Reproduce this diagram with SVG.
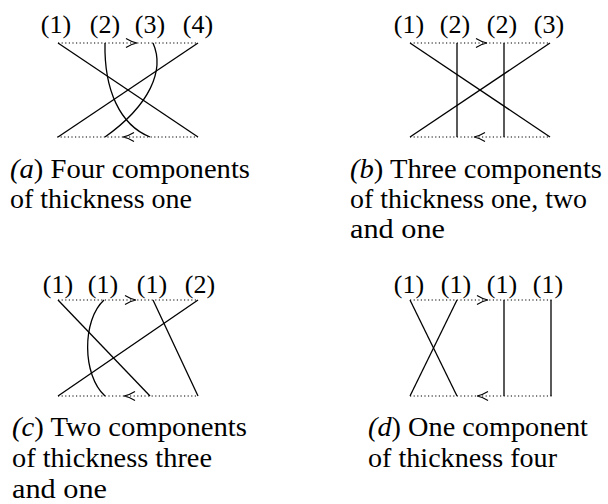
<svg xmlns="http://www.w3.org/2000/svg" width="608" height="504" viewBox="0 0 608 504">
<style>
.bg{fill:#fff}
.ln{stroke:#000;stroke-width:1.3;fill:none}
.dot{stroke:#000;stroke-width:1.2;fill:none;stroke-dasharray:1.2 2.4}
.tip{stroke:#000;stroke-width:1.1;fill:none}
.lab{font-family:"Liberation Serif","DejaVu Serif",serif;font-size:26px;text-anchor:middle;fill:#000}
.cap{font-family:"Liberation Serif","DejaVu Serif",serif;font-size:27px;fill:#000}
.it{font-style:italic}
</style>
<defs>
<path id="chev" d="M-11,-4.5 Q-5,-0.8 0,0 Q-5,0.8 -11,4.5"/>
</defs>
<rect class="bg" x="0" y="0" width="608" height="504"/>

<g id="panel-a">
<g id="a-labels">
<text class="lab" x="56" y="33">(1)</text>
<text class="lab" x="105" y="33">(2)</text>
<text class="lab" x="150" y="33">(3)</text>
<text class="lab" x="198" y="33">(4)</text>
</g>
<g id="a-connectors">
<line class="dot" x1="58" y1="43" x2="198" y2="43"/>
<line class="dot" x1="57" y1="137" x2="198" y2="137"/>
<use class="tip" href="#chev" transform="translate(137,43)"/>
<use class="tip" href="#chev" transform="translate(123,137) rotate(180)"/>
<line class="ln" x1="58" y1="43" x2="198" y2="137"/>
<line class="ln" x1="198" y1="43" x2="58" y2="137"/>
<path class="ln" d="M105,43 C104,90 120,125 150,137"/>
<path class="ln" d="M153,43 C165,70 150,105 105,137"/>
</g>
<g id="a-caption">
<text class="cap" x="10" y="178" textLength="240" lengthAdjust="spacingAndGlyphs"><tspan class="it">(a</tspan>) Four components</text>
<text class="cap" x="10" y="208" textLength="182" lengthAdjust="spacingAndGlyphs">of thickness one</text>
</g>
</g>

<g id="panel-b">
<g id="b-labels">
<text class="lab" x="409" y="33">(1)</text>
<text class="lab" x="455" y="33">(2)</text>
<text class="lab" x="502" y="33">(2)</text>
<text class="lab" x="549" y="33">(3)</text>
</g>
<g id="b-connectors">
<line class="dot" x1="410" y1="43" x2="550" y2="43"/>
<line class="dot" x1="410" y1="137" x2="550" y2="137"/>
<use class="tip" href="#chev" transform="translate(487,43)"/>
<use class="tip" href="#chev" transform="translate(474,137) rotate(180)"/>
<line class="ln" x1="410" y1="43" x2="550" y2="137"/>
<line class="ln" x1="550" y1="43" x2="410" y2="137"/>
<line class="ln" x1="457" y1="43" x2="457" y2="137"/>
<line class="ln" x1="504" y1="43" x2="504" y2="137"/>
</g>
<g id="b-caption">
<text class="cap" x="350" y="178" textLength="252" lengthAdjust="spacingAndGlyphs"><tspan class="it">(b</tspan>) Three components</text>
<text class="cap" x="350" y="208" textLength="237" lengthAdjust="spacingAndGlyphs">of thickness one, two</text>
<text class="cap" x="350" y="238" textLength="95" lengthAdjust="spacingAndGlyphs">and one</text>
</g>
</g>

<g id="panel-c">
<g id="c-labels">
<text class="lab" x="58" y="293">(1)</text>
<text class="lab" x="103" y="293">(1)</text>
<text class="lab" x="152" y="293">(1)</text>
<text class="lab" x="200" y="293">(2)</text>
</g>
<g id="c-connectors">
<line class="dot" x1="58" y1="300" x2="198" y2="300"/>
<line class="dot" x1="58" y1="396" x2="198" y2="396"/>
<use class="tip" href="#chev" transform="translate(136,300)"/>
<use class="tip" href="#chev" transform="translate(124,396) rotate(180)"/>
<line class="ln" x1="58" y1="300" x2="150" y2="396"/>
<line class="ln" x1="198" y1="300" x2="58" y2="396"/>
<line class="ln" x1="153" y1="300" x2="198" y2="396"/>
<path class="ln" d="M104,300 C82,320 82,375 105,396"/>
</g>
<g id="c-caption">
<text class="cap" x="12" y="436" textLength="235" lengthAdjust="spacingAndGlyphs"><tspan class="it">(c</tspan>) Two components</text>
<text class="cap" x="12" y="467" textLength="200" lengthAdjust="spacingAndGlyphs">of thickness three</text>
<text class="cap" x="12" y="498" textLength="95" lengthAdjust="spacingAndGlyphs">and one</text>
</g>
</g>

<g id="panel-d">
<g id="d-labels">
<text class="lab" x="409" y="293">(1)</text>
<text class="lab" x="456" y="293">(1)</text>
<text class="lab" x="502" y="293">(1)</text>
<text class="lab" x="548" y="293">(1)</text>
</g>
<g id="d-connectors">
<line class="dot" x1="410" y1="300" x2="552" y2="300"/>
<line class="dot" x1="410" y1="396" x2="552" y2="396"/>
<use class="tip" href="#chev" transform="translate(488,300)"/>
<use class="tip" href="#chev" transform="translate(477,396) rotate(180)"/>
<line class="ln" x1="410" y1="300" x2="457" y2="396"/>
<line class="ln" x1="457" y1="300" x2="410" y2="396"/>
<line class="ln" x1="504" y1="300" x2="504" y2="396"/>
<line class="ln" x1="551" y1="300" x2="551" y2="396"/>
</g>
<g id="d-caption">
<text class="cap" x="368" y="436" textLength="220" lengthAdjust="spacingAndGlyphs"><tspan class="it">(d</tspan>) One component</text>
<text class="cap" x="368" y="467" textLength="189" lengthAdjust="spacingAndGlyphs">of thickness four</text>
</g>
</g>
</svg>
